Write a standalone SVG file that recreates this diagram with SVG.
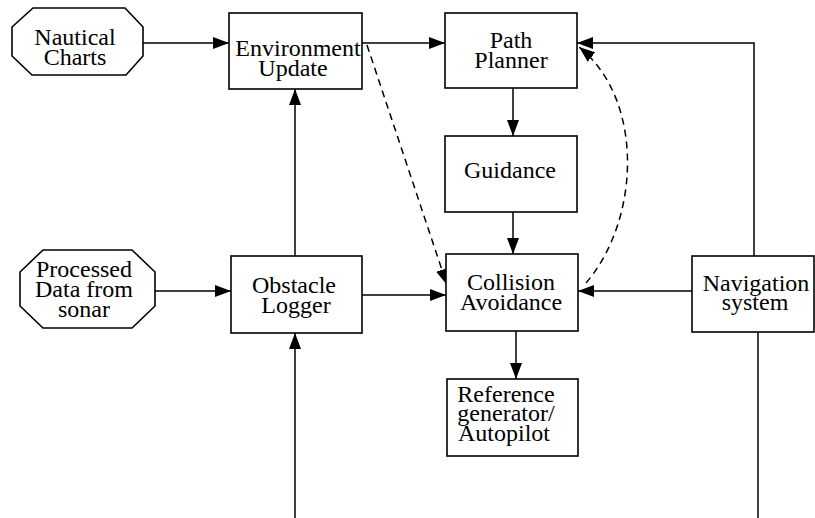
<svg xmlns="http://www.w3.org/2000/svg" width="815" height="518" viewBox="0 0 815 518">
<style>
.box{fill:#fff;stroke:#000;stroke-width:1.6}
.t{font-family:"Liberation Serif","Times New Roman",serif;font-size:24px;fill:#000;text-anchor:middle}
.c{fill:none;stroke:#000;stroke-width:1.5}
.d{fill:none;stroke:#000;stroke-width:1.5;stroke-dasharray:7 5}
</style>
<defs>
<marker id="ah" markerUnits="userSpaceOnUse" markerWidth="16" markerHeight="12" viewBox="0 0 16 12" refX="16" refY="6" orient="auto">
<path d="M0,0 L16,6 L0,12 Z" fill="#000"/>
</marker>
</defs>
<rect width="815" height="518" fill="#fff"/>
<g id="connectors">
<line class="c" x1="143" y1="43" x2="229" y2="43" marker-end="url(#ah)"/>
<line class="c" x1="362" y1="43" x2="445" y2="43" marker-end="url(#ah)"/>
<line class="c" x1="295" y1="256" x2="295" y2="89" marker-end="url(#ah)"/>
<line class="c" x1="155" y1="291" x2="231" y2="291" marker-end="url(#ah)"/>
<line class="c" x1="362" y1="295" x2="446" y2="295" marker-end="url(#ah)"/>
<line class="c" x1="295" y1="518" x2="295" y2="333" marker-end="url(#ah)"/>
<line class="c" x1="513" y1="88" x2="513" y2="136" marker-end="url(#ah)"/>
<line class="c" x1="513" y1="212" x2="513" y2="254" marker-end="url(#ah)"/>
<line class="c" x1="516" y1="331" x2="516" y2="379" marker-end="url(#ah)"/>
<line class="c" x1="692" y1="291" x2="578" y2="291" marker-end="url(#ah)"/>
<polyline class="c" points="754,256 754,43 577,43" marker-end="url(#ah)"/>
<line class="c" x1="758" y1="332" x2="758" y2="518"/>
<line class="d" x1="367" y1="45" x2="447" y2="285" marker-end="url(#ah)"/>
<path class="d" d="M586,283 C640,220 645,100 579,47" marker-end="url(#ah)"/>
</g>
<g id="nautical">
<polygon class="box" points="33,8 125,8 143,27 143,56 126,75 32,75 12,56 12,27"/>
<text class="t" x="75" y="45">Nautical</text>
<text class="t" x="75" y="65">Charts</text>
</g>
<g id="processed">
<polygon class="box" points="43,250 132,250 155,272 155,306 132,328 43,328 20,306 20,272"/>
<text class="t" x="84" y="277">Processed</text>
<text class="t" x="84" y="297">Data from</text>
<text class="t" x="84" y="317">sonar</text>
</g>
<g id="environment">
<rect class="box" x="229" y="13" width="133" height="76"/>
<text class="t" x="298" y="56">Environment</text>
<text class="t" x="293" y="76">Update</text>
</g>
<g id="path-planner">
<rect class="box" x="445" y="13" width="132" height="75"/>
<text class="t" x="511" y="48">Path</text>
<text class="t" x="511" y="68">Planner</text>
</g>
<g id="guidance">
<rect class="box" x="445" y="136" width="132" height="76"/>
<text class="t" x="510" y="178">Guidance</text>
</g>
<g id="obstacle">
<rect class="box" x="231" y="256" width="131" height="77"/>
<text class="t" x="294" y="293">Obstacle</text>
<text class="t" x="296" y="313">Logger</text>
</g>
<g id="collision">
<rect class="box" x="446" y="254" width="132" height="77"/>
<text class="t" x="511" y="290">Collision</text>
<text class="t" x="511" y="310">Avoidance</text>
</g>
<g id="navigation">
<rect class="box" x="692" y="256" width="122" height="76"/>
<text class="t" x="756" y="291">Navigation</text>
<text class="t" x="755" y="310">system</text>
</g>
<g id="reference">
<rect class="box" x="447" y="379" width="131" height="77"/>
<text class="t" x="506" y="402">Reference</text>
<text class="t" x="506" y="421">generator/</text>
<text class="t" x="504" y="441">Autopilot</text>
</g>
</svg>
